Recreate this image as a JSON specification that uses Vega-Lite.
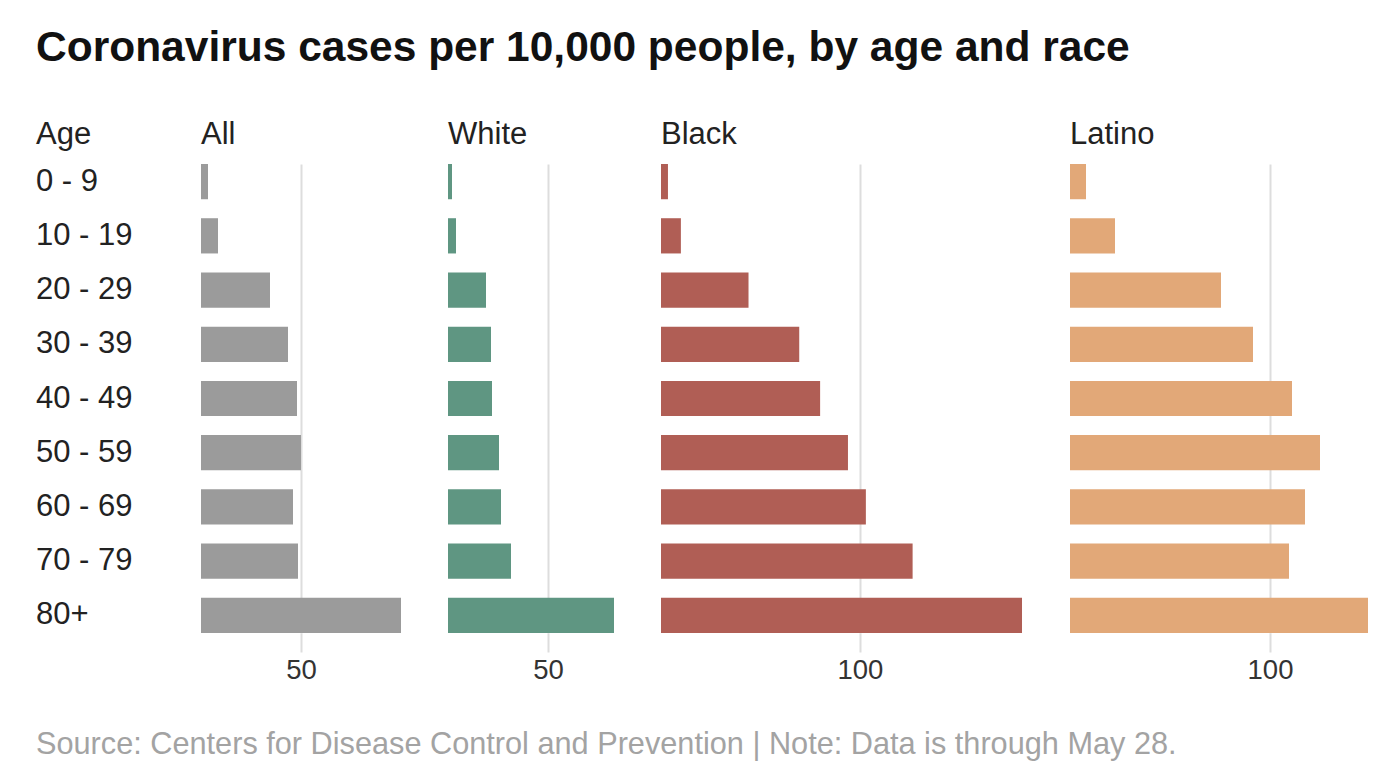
{
  "$schema": "https://vega.github.io/schema/vega-lite/v6.json",
  "background": "white",
  "padding": {"left": 36, "top": 26, "right": 5, "bottom": 5},
  "config": {
    "view": {"stroke": null},
    "font": "Liberation Sans",
    "title": {"anchor": "start", "frame": "group", "fontSize": 31, "fontWeight": "normal", "color": "#222222", "baseline": "alphabetic", "offset": 13}
  },
  "title": {
    "text": "Coronavirus cases per 10,000 people, by age and race",
    "anchor": "start",
    "frame": "bounds",
    "fontSize": 42.5,
    "fontWeight": "bold",
    "color": "#111111",
    "baseline": "top",
    "offset": 50
  },
  "datasets": {
    "cases": [
      {"age": "0 - 9", "group": "All", "value": 3.5},
      {"age": "10 - 19", "group": "All", "value": 8.5},
      {"age": "20 - 29", "group": "All", "value": 34.5},
      {"age": "30 - 39", "group": "All", "value": 43.5},
      {"age": "40 - 49", "group": "All", "value": 48},
      {"age": "50 - 59", "group": "All", "value": 50},
      {"age": "60 - 69", "group": "All", "value": 46},
      {"age": "70 - 79", "group": "All", "value": 48.5},
      {"age": "80+", "group": "All", "value": 100},
      {"age": "0 - 9", "group": "White", "value": 2},
      {"age": "10 - 19", "group": "White", "value": 4},
      {"age": "20 - 29", "group": "White", "value": 19},
      {"age": "30 - 39", "group": "White", "value": 21.5},
      {"age": "40 - 49", "group": "White", "value": 22},
      {"age": "50 - 59", "group": "White", "value": 25.5},
      {"age": "60 - 69", "group": "White", "value": 26.5},
      {"age": "70 - 79", "group": "White", "value": 31.5},
      {"age": "80+", "group": "White", "value": 83},
      {"age": "0 - 9", "group": "Black", "value": 3.5},
      {"age": "10 - 19", "group": "Black", "value": 10},
      {"age": "20 - 29", "group": "Black", "value": 44},
      {"age": "30 - 39", "group": "Black", "value": 69.5},
      {"age": "40 - 49", "group": "Black", "value": 80},
      {"age": "50 - 59", "group": "Black", "value": 94},
      {"age": "60 - 69", "group": "Black", "value": 103},
      {"age": "70 - 79", "group": "Black", "value": 126.5},
      {"age": "80+", "group": "Black", "value": 181.5},
      {"age": "0 - 9", "group": "Latino", "value": 8},
      {"age": "10 - 19", "group": "Latino", "value": 22.5},
      {"age": "20 - 29", "group": "Latino", "value": 75.5},
      {"age": "30 - 39", "group": "Latino", "value": 91.5},
      {"age": "40 - 49", "group": "Latino", "value": 111},
      {"age": "50 - 59", "group": "Latino", "value": 125},
      {"age": "60 - 69", "group": "Latino", "value": 117.5},
      {"age": "70 - 79", "group": "Latino", "value": 109.5},
      {"age": "80+", "group": "Latino", "value": 149}
    ]
  },
  "vconcat": [
    {
      "title": {
        "text": "Source: Centers for Disease Control and Prevention | Note: Data is through May 28.",
        "orient": "bottom",
        "anchor": "start",
        "frame": "bounds",
        "fontSize": 30.7,
        "fontWeight": "normal",
        "color": "#a3a3a3",
        "baseline": "top",
        "offset": 46
      },
      "spacing": 47,
      "hconcat": [
        {
          "title": "Age",
          "width": 118,
          "height": 469,
          "data": {"name": "cases"},
          "transform": [{"filter": "datum.group === 'All'"}],
          "mark": {"type": "text", "align": "left", "baseline": "middle", "fontSize": 31, "color": "#222222"},
          "encoding": {
            "y": {"field": "age", "type": "nominal", "sort": null, "bandPosition": 0.5, "scale": {"type": "band", "paddingInner": 0.35, "paddingOuter": 0}, "axis": null},
            "x": {"value": 0},
            "text": {"field": "age"}
          }
        },
        {
          "title": "All",
          "width": 200,
          "height": 469,
          "data": {"name": "cases"},
          "transform": [{"filter": "datum.group === 'All'"}],
          "mark": {"type": "bar", "color": "#9b9b9b"},
          "encoding": {
            "y": {"field": "age", "type": "nominal", "sort": null, "scale": {"paddingInner": 0.35, "paddingOuter": 0}, "axis": null},
            "x": {
              "field": "value", "type": "quantitative",
              "scale": {"domain": [0, 100], "nice": false},
              "axis": {"title": null, "values": [50], "grid": true, "gridColor": "#dddddd", "gridWidth": 2, "domain": false,
                       "tickSize": 19, "tickColor": "#dddddd", "tickWidth": 2, "labelFontSize": 27.5, "labelColor": "#333333", "labelPadding": 4}
            }
          }
        },
        {
          "title": "White",
          "width": 166,
          "height": 469,
          "data": {"name": "cases"},
          "transform": [{"filter": "datum.group === 'White'"}],
          "mark": {"type": "bar", "color": "#5f9682"},
          "encoding": {
            "y": {"field": "age", "type": "nominal", "sort": null, "scale": {"paddingInner": 0.35, "paddingOuter": 0}, "axis": null},
            "x": {
              "field": "value", "type": "quantitative",
              "scale": {"domain": [0, 83], "nice": false},
              "axis": {"title": null, "values": [50], "grid": true, "gridColor": "#dddddd", "gridWidth": 2, "domain": false,
                       "tickSize": 19, "tickColor": "#dddddd", "tickWidth": 2, "labelFontSize": 27.5, "labelColor": "#333333", "labelPadding": 4}
            }
          }
        },
        {
          "title": "Black",
          "width": 362,
          "height": 469,
          "data": {"name": "cases"},
          "transform": [{"filter": "datum.group === 'Black'"}],
          "mark": {"type": "bar", "color": "#b05e55"},
          "encoding": {
            "y": {"field": "age", "type": "nominal", "sort": null, "scale": {"paddingInner": 0.35, "paddingOuter": 0}, "axis": null},
            "x": {
              "field": "value", "type": "quantitative",
              "scale": {"domain": [0, 182], "nice": false},
              "axis": {"title": null, "values": [100], "grid": true, "gridColor": "#dddddd", "gridWidth": 2, "domain": false,
                       "tickSize": 19, "tickColor": "#dddddd", "tickWidth": 2, "labelFontSize": 27.5, "labelColor": "#333333", "labelPadding": 4}
            }
          }
        },
        {
          "title": "Latino",
          "width": 298,
          "height": 469,
          "data": {"name": "cases"},
          "transform": [{"filter": "datum.group === 'Latino'"}],
          "mark": {"type": "bar", "color": "#e2a878"},
          "encoding": {
            "y": {"field": "age", "type": "nominal", "sort": null, "scale": {"paddingInner": 0.35, "paddingOuter": 0}, "axis": null},
            "x": {
              "field": "value", "type": "quantitative",
              "scale": {"domain": [0, 149], "nice": false},
              "axis": {"title": null, "values": [100], "grid": true, "gridColor": "#dddddd", "gridWidth": 2, "domain": false,
                       "tickSize": 19, "tickColor": "#dddddd", "tickWidth": 2, "labelFontSize": 27.5, "labelColor": "#333333", "labelPadding": 4}
            }
          }
        }
      ]
    }
  ]
}
